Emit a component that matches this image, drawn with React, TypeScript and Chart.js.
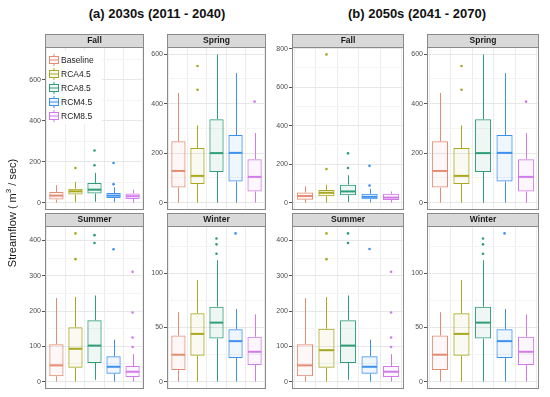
import React, { useEffect, useRef } from 'react';
import { Chart, registerables } from 'chart.js';
Chart.register(...registerables);

const categories = ['Baseline', 'RCA4.5', 'RCA8.5', 'RCM4.5', 'RCM8.5'];
const colors = ['#E58B72', '#A8A81E', '#2E9E78', '#3C90EE', '#D27AEA'];
const fills = ['rgba(229,139,114,0.06)', 'rgba(168,168,30,0.06)', 'rgba(46,158,120,0.08)', 'rgba(60,144,238,0.08)', 'rgba(210,122,234,0.06)'];

// each row: [lower whisker, Q1, median, Q3, upper whisker]
const fall2030Stats = [[0, 15, 34, 52, 85], [2, 40, 55, 68, 101], [4, 44, 63, 96, 145], [2, 23, 34, 47, 75], [0, 18, 31, 44, 63]];
const fall2030Outliers = [[], [169, 723], [182, 254], [90, 193], []];
const spring2030Stats = [[0, 61, 128, 248, 443], [0, 75, 108, 221, 312], [0, 124, 200, 337, 599], [0, 85, 201, 273, 523], [0, 45, 104, 175, 281]];
const spring2030Outliers = [[], [456, 552], [], [], [408]];
const summer2030Stats = [[0, 15, 46, 106, 237], [0, 39, 93, 154, 240], [5, 53, 102, 174, 244], [0, 22, 42, 72, 119], [0, 13, 28, 44, 78]];
const summer2030Outliers = [[], [347, 420], [393, 415], [375], [98, 125, 196, 311]];
const winter2030Stats = [[0, 10.7, 24.8, 42.5, 64], [0, 23.9, 44, 63, 93.6], [0, 39.7, 54.4, 69, 112], [0, 21.7, 37.3, 48.3, 67], [0, 15.3, 27.5, 41.3, 62]];
const winter2030Outliers = [[], [], [118, 126.6, 132], [136.7], []];

const fall2050Stats = [[0, 15, 34, 52, 85], [0, 33, 51, 65, 93], [3, 38, 58, 93, 142], [1, 17, 30, 46, 72], [0, 14, 26, 46, 58]];
const fall2050Outliers = [[], [174, 770], [180, 256], [89, 191], []];
const spring2050Stats = [[0, 61, 128, 248, 443], [0, 75, 108, 221, 312], [0, 124, 200, 337, 599], [0, 85, 201, 273, 523], [0, 45, 104, 175, 281]];
const spring2050Outliers = [[], [456, 552], [], [], [408]];
const summer2050Stats = [[0, 15, 46, 106, 237], [0, 39, 89, 150, 240], [5, 53, 102, 174, 244], [0, 22, 42, 72, 119], [0, 13, 28, 44, 78]];
const summer2050Outliers = [[], [347, 420], [393, 420], [376], [98, 125, 196, 311]];
const winter2050Stats = [[0, 10.7, 24.8, 42.5, 64], [0, 23.9, 44, 63, 93.6], [0, 39.7, 54.4, 69, 112], [0, 21.7, 37.3, 48.3, 67], [0, 15.3, 27.5, 41.3, 62]];
const winter2050Outliers = [[], [], [118, 126.6, 132], [136.7], []];

const groupTitles = ['(a) 2030s (2011 - 2040)', '(b) 2050s (2041 - 2070)'];
const yTitle = 'Streamflow ( m';

const FONT = '"Liberation Sans", Arial, Helvetica, sans-serif';
const SH = 13; // strip height
const PH = 163; // plot height
const YW = 24; // y-axis width
const BOT = 8;

type PanelCfg = {
  key: string; title: string; stats: number[][]; outliers: number[][];
  major: number; minor: number; x: number; w: number; top: number; legend?: boolean;
};

const panels: PanelCfg[] = [
  { key: 'f30', title: 'Fall', stats: fall2030Stats, outliers: fall2030Outliers, major: 200, minor: 100, x: 45, w: 103, top: 34, legend: true },
  { key: 'sp30', title: 'Spring', stats: spring2030Stats, outliers: spring2030Outliers, major: 200, minor: 100, x: 167, w: 103, top: 34 },
  { key: 'su30', title: 'Summer', stats: summer2030Stats, outliers: summer2030Outliers, major: 100, minor: 50, x: 45, w: 103, top: 213 },
  { key: 'wi30', title: 'Winter', stats: winter2030Stats, outliers: winter2030Outliers, major: 50, minor: 25, x: 167, w: 103, top: 213 },
  { key: 'f50', title: 'Fall', stats: fall2050Stats, outliers: fall2050Outliers, major: 200, minor: 100, x: 292, w: 116, top: 34 },
  { key: 'sp50', title: 'Spring', stats: spring2050Stats, outliers: spring2050Outliers, major: 200, minor: 100, x: 427, w: 116, top: 34 },
  { key: 'su50', title: 'Summer', stats: summer2050Stats, outliers: summer2050Outliers, major: 100, minor: 50, x: 292, w: 116, top: 213 },
  { key: 'wi50', title: 'Winter', stats: winter2050Stats, outliers: winter2050Outliers, major: 50, minor: 25, x: 427, w: 116, top: 213 },
];

function Panel({ p }: { p: PanelCfg }) {
  const ref = useRef<HTMLCanvasElement>(null);
  useEffect(() => {
    if (!ref.current) return;
    let maxV = -Infinity, minV = Infinity;
    p.stats.forEach((s, i) => {
      [...s, ...p.outliers[i]].forEach((v) => { maxV = Math.max(maxV, v); minV = Math.min(minV, v); });
    });
    const span = maxV - minV;
    const yMin = minV - 0.05 * span;
    const yMax = maxV + 0.05 * span;
    const isMajor = (v: number) => Math.abs(v / p.major - Math.round(v / p.major)) < 1e-6;

    const boxData = p.stats.map((s, i) => ({ x: i + 1, y: [s[1], s[3]] }));
    const outData: { x: number; y: number }[] = [];
    const outColors: string[] = [];
    p.outliers.forEach((arr, i) => arr.forEach((v) => { outData.push({ x: i + 1, y: v }); outColors.push(colors[i]); }));

    const plugin = {
      id: 'boxparts' + p.key,
      beforeDatasetsDraw(chart: any) {
        const ctx = chart.ctx; const xs = chart.scales.x; const ys = chart.scales.y;
        ctx.save();
        ctx.lineWidth = 1;
        p.stats.forEach((s, i) => {
          const x = Math.round(xs.getPixelForValue(i + 1)) + 0.5;
          ctx.strokeStyle = colors[i];
          ctx.beginPath();
          ctx.moveTo(x, ys.getPixelForValue(s[0]));
          ctx.lineTo(x, ys.getPixelForValue(s[1]));
          ctx.moveTo(x, ys.getPixelForValue(s[3]));
          ctx.lineTo(x, ys.getPixelForValue(s[4]));
          ctx.stroke();
        });
        ctx.restore();
      },
      afterDatasetsDraw(chart: any) {
        const ctx = chart.ctx; const xs = chart.scales.x; const ys = chart.scales.y;
        const unit = xs.getPixelForValue(2) - xs.getPixelForValue(1);
        const hw = unit * 0.75 / 2;
        ctx.save();
        ctx.lineWidth = 2;
        p.stats.forEach((s, i) => {
          const x = xs.getPixelForValue(i + 1);
          const y = ys.getPixelForValue(s[2]);
          ctx.strokeStyle = colors[i];
          ctx.beginPath();
          ctx.moveTo(x - hw + 0.5, y);
          ctx.lineTo(x + hw - 0.5, y);
          ctx.stroke();
        });
        ctx.restore();
      },
      afterDraw(chart: any) {
        const ctx = chart.ctx; const a = chart.chartArea;
        ctx.save();
        // legend
        if (p.legend) {
          const lx = a.left; const ly = a.top;
          ctx.fillStyle = '#ffffff';
          ctx.fillRect(lx + 2, ly + 4, 55, 73);
          categories.forEach((c, i) => {
            const cy = ly + 13 + i * 14;
            const bx = lx + 4, bw = 10;
            ctx.strokeStyle = colors[i];
            ctx.fillStyle = fills[i];
            ctx.lineWidth = 1;
            ctx.fillRect(bx, cy - 3.5, bw, 7);
            ctx.strokeRect(bx + 0.5, cy - 3.5, bw - 1, 7);
            ctx.beginPath();
            ctx.moveTo(bx + bw / 2, cy - 6); ctx.lineTo(bx + bw / 2, cy - 3.5);
            ctx.moveTo(bx + bw / 2, cy + 3.5); ctx.lineTo(bx + bw / 2, cy + 6);
            ctx.moveTo(bx, cy); ctx.lineTo(bx + bw, cy);
            ctx.stroke();
            ctx.fillStyle = '#1a1a1a';
            ctx.font = '8.5px ' + FONT;
            ctx.textAlign = 'left';
            ctx.textBaseline = 'middle';
            ctx.fillText(c, lx + 16, cy + 0.5);
          });
        }
        // panel border
        ctx.strokeStyle = '#8a8a8a';
        ctx.lineWidth = 1;
        ctx.strokeRect(a.left + 0.5, a.top + 0.5, a.right - a.left - 1, a.bottom - a.top - 1);
        // strip
        ctx.fillStyle = '#d9d9d9';
        ctx.fillRect(a.left, 0, a.right - a.left, a.top);
        ctx.strokeRect(a.left + 0.5, 0.5, a.right - a.left - 1, a.top);
        ctx.fillStyle = '#1a1a1a';
        ctx.font = 'bold 8.5px ' + FONT;
        ctx.textAlign = 'center';
        ctx.textBaseline = 'middle';
        ctx.fillText(p.title, (a.left + a.right) / 2, a.top / 2 + 0.5);
        ctx.restore();
      },
    };

    const chart = new Chart(ref.current, {
      type: 'bar',
      data: {
        datasets: [
          {
            type: 'bar',
            data: boxData as any,
            backgroundColor: fills,
            borderColor: colors,
            borderWidth: 1,
            borderSkipped: false,
            categoryPercentage: 0.75,
            barPercentage: 1,
            grouped: false,
            order: 2,
          } as any,
          {
            type: 'scatter',
            data: outData,
            pointBackgroundColor: outColors,
            pointBorderColor: outColors,
            pointBorderWidth: 0,
            pointRadius: 1.3,
            order: 1,
          } as any,
        ],
      },
      options: {
        animation: false,
        responsive: false,
        events: [],
        layout: { padding: { top: SH, bottom: BOT, left: 0, right: 0 } },
        plugins: { legend: { display: false }, tooltip: { enabled: false } },
        scales: {
          x: {
            type: 'linear',
            min: 0.4,
            max: 5.6,
            offset: false,
            afterBuildTicks: (s: any) => { s.ticks = [1, 2, 3, 4, 5].map((v) => ({ value: v })); },
            afterFit: (s: any) => { s.height = 0; },
            ticks: { display: false },
            grid: { color: '#ececec', drawTicks: false, lineWidth: 1 },
            border: { display: false },
          },
          y: {
            type: 'linear',
            min: yMin,
            max: yMax,
            afterBuildTicks: (s: any) => {
              const t: { value: number }[] = [];
              for (let v = Math.ceil(yMin / p.minor) * p.minor; v <= yMax; v += p.minor) t.push({ value: v });
              s.ticks = t;
            },
            afterFit: (s: any) => { s.width = YW; },
            ticks: {
              autoSkip: false,
              padding: 1,
              color: '#4d4d4d',
              font: { size: 7, family: FONT },
              callback: (v: any) => (isMajor(Number(v)) ? String(Math.round(Number(v))) : ''),
            },
            grid: {
              color: (c: any) => (c.tick && isMajor(c.tick.value) ? '#e8e8e8' : '#f4f4f4'),
              tickColor: (c: any) => (c.tick && isMajor(c.tick.value) ? '#555555' : 'rgba(0,0,0,0)'),
              tickLength: 3,
              lineWidth: 1,
            },
            border: { display: false },
          },
        },
      } as any,
      plugins: [plugin],
    });
    return () => chart.destroy();
  }, [p]);

  const width = YW + p.w;
  const height = SH + PH + BOT;
  return (
    <canvas
      ref={ref}
      width={width}
      height={height}
      style={{ position: 'absolute', left: p.x - YW, top: p.top, width, height }}
    />
  );
}

export default function App() {
  return (
    <div style={{ position: 'absolute', left: 0, top: 0, width: 550, height: 397, background: '#ffffff', overflow: 'hidden' }}>
      {panels.map((p) => <Panel key={p.key} p={p} />)}
      <div style={{ position: 'absolute', left: 157, top: 13, transform: 'translate(-50%,-50%)', whiteSpace: 'nowrap', font: 'bold 13px ' + FONT, color: '#111' }}>
        {groupTitles[0]}
      </div>
      <div style={{ position: 'absolute', left: 417, top: 13, transform: 'translate(-50%,-50%)', whiteSpace: 'nowrap', font: 'bold 13px ' + FONT, color: '#111' }}>
        {groupTitles[1]}
      </div>
      <div style={{ position: 'absolute', left: 12, top: 213, transform: 'translate(-50%,-50%) rotate(-90deg)', whiteSpace: 'nowrap', font: '11px ' + FONT, color: '#1a1a1a', lineHeight: '12px' }}>
        {yTitle}
        <sup style={{ fontSize: 8, lineHeight: 0 }}>3</sup>
        {' / sec)'}
      </div>
    </div>
  );
}
